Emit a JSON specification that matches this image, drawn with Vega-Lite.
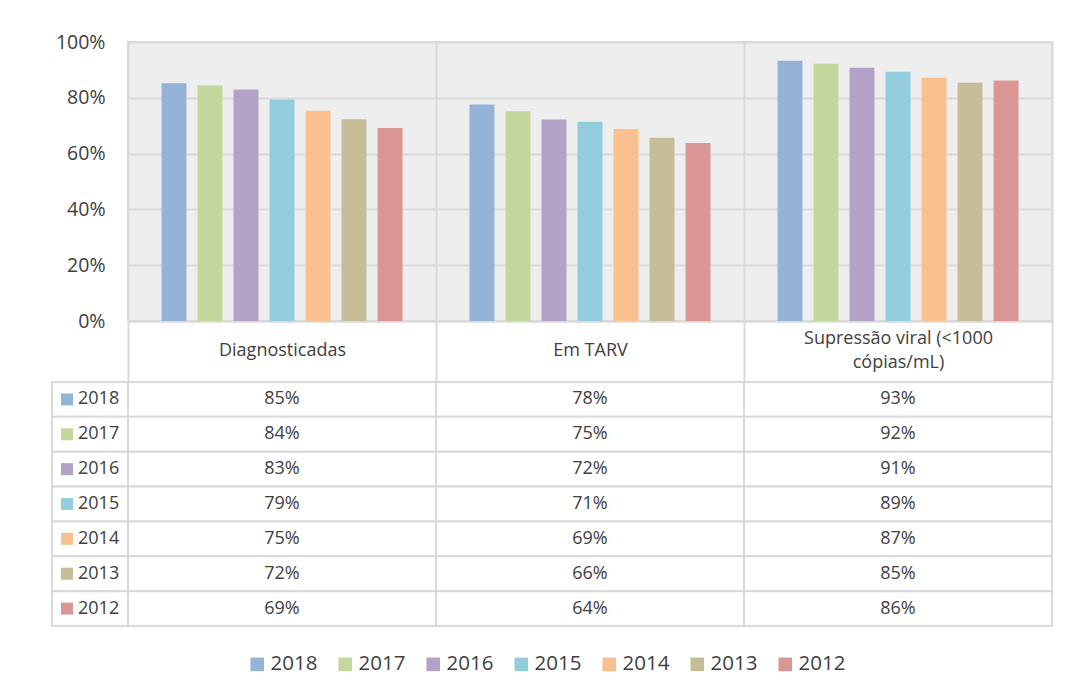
{
  "$schema": "https://vega.github.io/schema/vega-lite/v6.json",
  "background": "white",
  "padding": {"left": 51, "top": 31, "right": 10, "bottom": 10},
  "config": {
    "font": "Open Sans",
    "view": {"stroke": null},
    "axis": {"labelFont": "Open Sans", "labelColor": "#404040"},
    "legend": {"labelFont": "Open Sans", "labelColor": "#404040"},
    "text": {"font": "Open Sans", "color": "#404040"}
  },
  "data": {
    "values": [
      {"cat": "Diagnosticadas", "year": "2018", "value": 0.852},
      {"cat": "Diagnosticadas", "year": "2017", "value": 0.844},
      {"cat": "Diagnosticadas", "year": "2016", "value": 0.830},
      {"cat": "Diagnosticadas", "year": "2015", "value": 0.794},
      {"cat": "Diagnosticadas", "year": "2014", "value": 0.754},
      {"cat": "Diagnosticadas", "year": "2013", "value": 0.723},
      {"cat": "Diagnosticadas", "year": "2012", "value": 0.692},
      {"cat": "Em TARV", "year": "2018", "value": 0.776},
      {"cat": "Em TARV", "year": "2017", "value": 0.752},
      {"cat": "Em TARV", "year": "2016", "value": 0.722},
      {"cat": "Em TARV", "year": "2015", "value": 0.714},
      {"cat": "Em TARV", "year": "2014", "value": 0.688},
      {"cat": "Em TARV", "year": "2013", "value": 0.657},
      {"cat": "Em TARV", "year": "2012", "value": 0.638},
      {"cat": "Supressão viral (<1000 cópias/mL)", "year": "2018", "value": 0.933},
      {"cat": "Supressão viral (<1000 cópias/mL)", "year": "2017", "value": 0.922},
      {"cat": "Supressão viral (<1000 cópias/mL)", "year": "2016", "value": 0.908},
      {"cat": "Supressão viral (<1000 cópias/mL)", "year": "2015", "value": 0.893},
      {"cat": "Supressão viral (<1000 cópias/mL)", "year": "2014", "value": 0.872},
      {"cat": "Supressão viral (<1000 cópias/mL)", "year": "2013", "value": 0.854},
      {"cat": "Supressão viral (<1000 cópias/mL)", "year": "2012", "value": 0.862}
    ]
  },
  "columns": 2,
  "spacing": {"row": 61, "column": 0},
  "bounds": "flush",
  "align": "each",
  "resolve": {"scale": {"color": "independent", "x": "independent", "y": "independent"}, "legend": {"color": "independent"}},
  "concat": [
    {
      "width": 76,
      "height": 279,
      "data": {"values": []},
      "mark": "text",
      "encoding": {}
    },
    {
      "width": 924,
      "height": 279,
      "view": {"stroke": "#d9d9d9", "strokeWidth": 2, "fill": "#eeeeee"},
      "mark": {"type": "bar"},
      "encoding": {
        "x": {
          "field": "cat", "type": "nominal",
          "sort": ["Diagnosticadas", "Em TARV", "Supressão viral (<1000 cópias/mL)"],
          "scale": {"paddingInner": 0, "paddingOuter": 0},
          "axis": {
            "title": null, "orient": "bottom", "tickBand": "extent",
            "ticks": true, "tickSize": 61, "tickColor": "#d9d9d9", "tickWidth": 2,
            "domain": true, "domainColor": "#d9d9d9", "domainWidth": 2,
            "grid": true, "gridColor": "#d9d9d9", "gridWidth": 2,
            "labelPadding": {"condition": {"test": "datum.value == 'Supressão viral (<1000 cópias/mL)'", "value": -44}, "value": -32},
            "labelBaseline": "middle", "labelFontSize": 18,
            "labelLineHeight": 24, "labelAngle": 0, "labelLimit": 0,
            "labelExpr": "datum.value == 'Supressão viral (<1000 cópias/mL)' ? ['Supressão viral (<1000', 'cópias/mL)'] : datum.value"
          }
        },
        "xOffset": {
          "field": "year", "type": "nominal",
          "sort": ["2018", "2017", "2016", "2015", "2014", "2013", "2012"],
          "scale": {"paddingInner": 0.306, "paddingOuter": 0.93}
        },
        "y": {
          "field": "value", "type": "quantitative",
          "scale": {"domain": [0, 1], "nice": false},
          "axis": {
            "title": null, "values": [0, 0.2, 0.4, 0.6, 0.8, 1], "format": ".0%",
            "domain": false, "ticks": false, "grid": true, "gridColor": "#d9d9d9", "gridWidth": 2,
            "labelPadding": 23, "labelFontSize": 19.5
          }
        },
        "color": {
          "field": "year", "type": "nominal",
          "scale": {
            "domain": ["2018", "2017", "2016", "2015", "2014", "2013", "2012"],
            "range": ["#95b3d7", "#c3d69b", "#b3a2c7", "#93cddd", "#fac090", "#c4bd97", "#d99694"]
          },
          "legend": {
            "title": null, "orient": "none", "legendX": 119, "legendY": 612,
            "direction": "horizontal", "symbolType": "square", "symbolSize": 185,
            "symbolStrokeWidth": 0, "symbolOpacity": 1, "labelFontSize": 20.5,
            "labelOffset": 3, "columnPadding": 17
          }
        }
      }
    },
    {
      "width": 76,
      "height": 244,
      "transform": [{"filter": "datum.cat == 'Diagnosticadas'"}],
      "layer": [
        {
          "mark": {"type": "rect", "fill": "white", "stroke": "#d9d9d9", "strokeWidth": 2},
          "encoding": {
            "y": {"field": "year", "type": "nominal", "sort": ["2018", "2017", "2016", "2015", "2014", "2013", "2012"], "axis": null, "scale": {"paddingInner": 0, "paddingOuter": 0}}
          }
        },
        {
          "mark": {"type": "point", "shape": "square", "filled": true, "size": 144, "opacity": 1, "xOffset": -23},
          "encoding": {
            "y": {"field": "year", "type": "nominal", "sort": ["2018", "2017", "2016", "2015", "2014", "2013", "2012"], "axis": null, "scale": {"paddingInner": 0, "paddingOuter": 0}},
            "color": {
              "field": "year", "type": "nominal", "legend": null,
              "scale": {
                "domain": ["2018", "2017", "2016", "2015", "2014", "2013", "2012"],
                "range": ["#95b3d7", "#c3d69b", "#b3a2c7", "#93cddd", "#fac090", "#c4bd97", "#d99694"]
              }
            }
          }
        },
        {
          "mark": {"type": "text", "align": "left", "dx": -12, "fontSize": 18, "color": "#404040"},
          "encoding": {
            "y": {"field": "year", "type": "nominal", "sort": ["2018", "2017", "2016", "2015", "2014", "2013", "2012"], "axis": null, "scale": {"paddingInner": 0, "paddingOuter": 0}},
            "text": {"field": "year"}
          }
        }
      ]
    },
    {
      "width": 924,
      "height": 244,
      "layer": [
        {
          "mark": {"type": "rect", "fill": "white", "stroke": "#d9d9d9", "strokeWidth": 2},
          "encoding": {
            "x": {"field": "cat", "type": "nominal", "sort": ["Diagnosticadas", "Em TARV", "Supressão viral (<1000 cópias/mL)"], "axis": null, "scale": {"paddingInner": 0, "paddingOuter": 0}},
            "y": {"field": "year", "type": "nominal", "sort": ["2018", "2017", "2016", "2015", "2014", "2013", "2012"], "axis": null, "scale": {"paddingInner": 0, "paddingOuter": 0}}
          }
        },
        {
          "mark": {"type": "text", "fontSize": 18, "color": "#404040"},
          "encoding": {
            "x": {"field": "cat", "type": "nominal", "sort": ["Diagnosticadas", "Em TARV", "Supressão viral (<1000 cópias/mL)"], "axis": null, "scale": {"paddingInner": 0, "paddingOuter": 0}},
            "y": {"field": "year", "type": "nominal", "sort": ["2018", "2017", "2016", "2015", "2014", "2013", "2012"], "axis": null, "scale": {"paddingInner": 0, "paddingOuter": 0}},
            "text": {"field": "value", "format": ".0%"}
          }
        }
      ]
    }
  ]
}
